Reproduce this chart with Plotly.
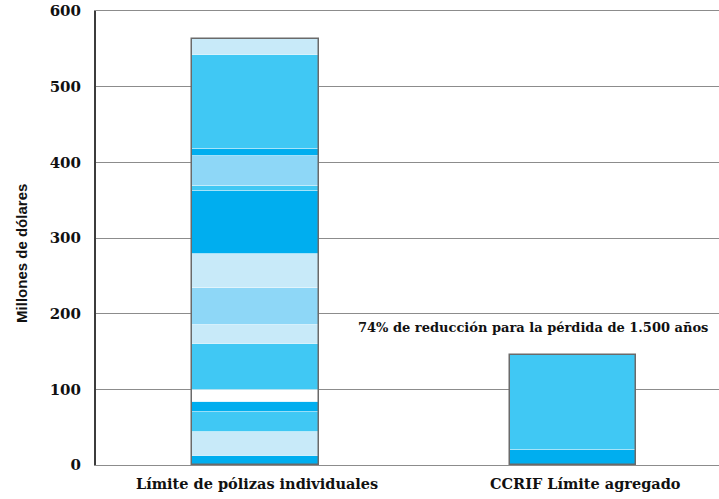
import plotly.graph_objects as go
import numpy as np

categories = ["Límite de pólizas individuales", "CCRIF Límite agregado"]

# segment values (bottom to top), millions USD
segments_individual = [12, 31.5, 26, 14, 15, 62, 25, 48, 45, 83, 7.5, 40, 8, 125.5, 20.7]
segments_ccrif = [20, 125]

# shade key for each segment
shades_individual = ["dark", "light", "medium", "dark", "white", "medium", "light", "mid_light",
                     "light", "dark", "medium", "mid_light", "dark", "medium", "light"]
shades_ccrif = ["dark", "medium"]

y_ticks = [0, 100, 200, 300, 400, 500, 600]
annotation_text = "74% de reducción para la pérdida de 1.500 años"
y_title = "Millones de dólares"

palette = {
    "dark": "#00AEEF",
    "medium": "#40C8F4",
    "mid_light": "#8ED7F7",
    "light": "#C8EAF9",
    "white": "#FFFFFF",
}

fig = go.Figure()

def add_stack(cat, values, shades):
    bases = np.concatenate([[0], np.cumsum(values)[:-1]])
    for v, b, s in zip(values, bases, shades):
        fig.add_trace(go.Bar(
            x=[cat], y=[v], base=[b], width=0.4,
            marker=dict(color=palette[s], line=dict(color="rgba(255,255,255,0.35)", width=1)),
            showlegend=False, hoverinfo="skip",
        ))
    fig.add_trace(go.Bar(
        x=[cat], y=[float(np.sum(values))], base=[0], width=0.4,
        marker=dict(color="rgba(0,0,0,0)", line=dict(color="#6a6a6a", width=1.5)),
        showlegend=False, hoverinfo="skip",
    ))

add_stack(categories[0], segments_individual, shades_individual)
add_stack(categories[1], segments_ccrif, shades_ccrif)

serif_bold = dict(family="DejaVu Serif", color="#111111", weight="bold")

fig.add_annotation(
    x=0.875, y=182, xref="x", yref="y", text=annotation_text, showarrow=False,
    font=dict(size=13, **serif_bold),
)
fig.add_annotation(
    x=(22 - 96) / 623, y=279, xref="paper", yref="y", text=y_title, showarrow=False,
    textangle=-90, xanchor="center",
    font=dict(family="Liberation Sans", size=15, color="#111111", weight="bold"),
)
# category labels
label_shift = [1, 12]
for cat, sh in zip(categories, label_shift):
    fig.add_annotation(
        x=cat, y=0, xref="x", yref="y", text=cat, showarrow=False,
        yanchor="middle", yshift=-18, xshift=sh,
        font=dict(size=14.5, **serif_bold),
    )

fig.update_layout(
    width=719, height=499,
    margin=dict(l=96, r=0, t=11, b=34),
    barmode="overlay",
    plot_bgcolor="white", paper_bgcolor="white",
    bargap=0,
)
fig.update_xaxes(
    type="category", categoryorder="array", categoryarray=categories,
    range=[-0.503, 1.46], showgrid=False, zeroline=False,
    showline=True, linecolor="#8c8c8c", linewidth=1, mirror=True,
    ticks="", showticklabels=False,
)
fig.update_yaxes(
    range=[0, 600], tickvals=y_ticks, showgrid=True, gridcolor="#8c8c8c", gridwidth=1,
    showline=True, linecolor="#3c3c3c", linewidth=2, zeroline=False,
    ticks="", ticklabelstandoff=10,
    tickfont=dict(size=15, **serif_bold),
)

fig.write_html("out.html")
